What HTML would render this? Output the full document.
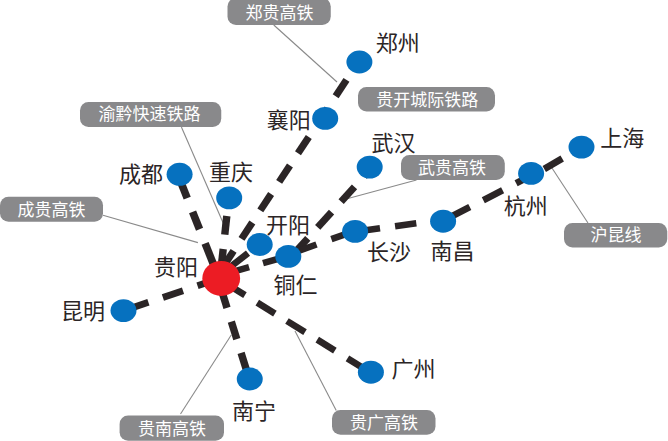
<!DOCTYPE html>
<html lang="zh-CN">
<head>
<meta charset="utf-8">
<title>贵阳铁路枢纽示意图</title>
<style>
html,body{margin:0;padding:0;background:#fff;}
body{width:668px;height:441px;overflow:hidden;font-family:"Liberation Sans","Noto Sans CJK SC",sans-serif;}
svg{display:block;}
svg text{font-family:"Liberation Sans","Noto Sans CJK SC",sans-serif;}
</style>
</head>
<body>
<svg width="668" height="441" viewBox="0 0 668 441" role="img" aria-label="贵阳铁路枢纽示意图">
<rect width="668" height="441" fill="#fff"/>
<line x1="273.75" y1="25" x2="337" y2="82" stroke="#8a8a8a" stroke-width="1.1"/>
<line x1="181.4" y1="127" x2="223.6" y2="224.0" stroke="#8a8a8a" stroke-width="1.1"/>
<line x1="103" y1="215.2" x2="197.9" y2="242.6" stroke="#8a8a8a" stroke-width="1.1"/>
<line x1="416.5" y1="180" x2="348" y2="198.5" stroke="#8a8a8a" stroke-width="1.1"/>
<line x1="588" y1="223" x2="550.8" y2="166.3" stroke="#8a8a8a" stroke-width="1.1"/>
<line x1="180.5" y1="414" x2="231.25" y2="335" stroke="#8a8a8a" stroke-width="1.1"/>
<line x1="336.25" y1="410.5" x2="295" y2="331" stroke="#8a8a8a" stroke-width="1.1"/>
<g stroke="#2b2526" fill="none">
<line x1="219.86" y1="280.48" x2="205.10" y2="243.30" stroke-width="7.6"/>
<line x1="199.53" y1="229.27" x2="192.59" y2="211.79" stroke-width="7.6"/>
<line x1="187.20" y1="198.22" x2="177.65" y2="174.15" stroke-width="7.6"/>
<line x1="219.95" y1="278.82" x2="223.20" y2="249.00" stroke-width="7.4"/>
<line x1="224.77" y1="234.64" x2="226.80" y2="216.00" stroke-width="7.4"/>
<line x1="228.36" y1="201.68" x2="228.84" y2="197.31" stroke-width="7.4"/>
<line x1="217.07" y1="275.94" x2="233.60" y2="250.90" stroke-width="7.1"/>
<line x1="241.53" y1="238.88" x2="252.33" y2="222.52" stroke-width="7.1"/>
<line x1="260.32" y1="210.42" x2="271.11" y2="194.06" stroke-width="7.1"/>
<line x1="279.15" y1="181.88" x2="289.95" y2="165.52" stroke-width="7.1"/>
<line x1="297.99" y1="153.33" x2="308.79" y2="136.98" stroke-width="7.1"/>
<line x1="316.83" y1="124.79" x2="327.63" y2="108.43" stroke-width="7.1"/>
<line x1="335.67" y1="96.25" x2="346.47" y2="79.89" stroke-width="7.1"/>
<line x1="354.51" y1="67.70" x2="358.53" y2="61.61" stroke-width="7.1"/>
<line x1="248.00" y1="253.20" x2="222.73" y2="272.84" stroke-width="6.7"/>
<line x1="219.45" y1="275.64" x2="249.07" y2="267.18" stroke-width="6.6"/>
<line x1="263.01" y1="263.20" x2="288.30" y2="255.97" stroke-width="6.6"/>
<line x1="288.30" y1="259.76" x2="307.80" y2="238.30" stroke-width="7.1"/>
<line x1="317.69" y1="227.42" x2="331.54" y2="212.17" stroke-width="7.1"/>
<line x1="341.15" y1="201.59" x2="354.50" y2="186.90" stroke-width="7.1"/>
<line x1="364.15" y1="176.28" x2="369.60" y2="170.28" stroke-width="7.1"/>
<line x1="288.33" y1="254.52" x2="316.50" y2="244.50" stroke-width="6.6"/>
<line x1="331.39" y1="239.20" x2="355.03" y2="230.79" stroke-width="6.6"/>
<line x1="355.05" y1="231.81" x2="380.00" y2="228.30" stroke-width="6.5"/>
<line x1="395.05" y1="226.19" x2="416.30" y2="223.20" stroke-width="6.5"/>
<line x1="431.40" y1="221.08" x2="443.08" y2="219.44" stroke-width="6.5"/>
<line x1="443.12" y1="220.82" x2="469.80" y2="207.10" stroke-width="6.7"/>
<line x1="483.32" y1="200.15" x2="502.62" y2="190.23" stroke-width="6.7"/>
<line x1="516.10" y1="183.30" x2="531.08" y2="175.60" stroke-width="6.7"/>
<line x1="544.26" y1="169.02" x2="562.20" y2="158.50" stroke-width="6.8"/>
<line x1="221.20" y1="277.84" x2="197.50" y2="285.80" stroke-width="6.8"/>
<line x1="183.00" y1="290.67" x2="162.90" y2="297.43" stroke-width="6.8"/>
<line x1="148.40" y1="302.30" x2="123.47" y2="310.68" stroke-width="6.8"/>
<line x1="217.75" y1="278.21" x2="227.00" y2="307.80" stroke-width="7.4"/>
<line x1="231.33" y1="321.64" x2="236.82" y2="339.20" stroke-width="7.4"/>
<line x1="241.10" y1="352.90" x2="249.26" y2="379.00" stroke-width="7.4"/>
<line x1="220.28" y1="279.78" x2="244.95" y2="295.03" stroke-width="6.7"/>
<line x1="257.29" y1="302.65" x2="274.90" y2="313.53" stroke-width="6.7"/>
<line x1="286.98" y1="320.99" x2="305.01" y2="332.13" stroke-width="6.7"/>
<line x1="317.26" y1="339.70" x2="334.87" y2="350.58" stroke-width="6.7"/>
<line x1="347.46" y1="358.36" x2="370.86" y2="372.82" stroke-width="6.7"/>
</g>
<ellipse cx="359.4" cy="62.0" rx="13.0" ry="11.45" fill="#0671bf"/>
<ellipse cx="325.2" cy="118.4" rx="13.0" ry="11.45" fill="#0671bf"/>
<ellipse cx="369.7" cy="167.1" rx="13.0" ry="11.45" fill="#0671bf"/>
<ellipse cx="179.6" cy="174.3" rx="13.0" ry="11.45" fill="#0671bf"/>
<ellipse cx="229.2" cy="197.9" rx="13.0" ry="11.45" fill="#0671bf"/>
<ellipse cx="259.7" cy="244.5" rx="13.0" ry="11.45" fill="#0671bf"/>
<ellipse cx="288.3" cy="256.4" rx="13.0" ry="11.45" fill="#0671bf"/>
<ellipse cx="355.1" cy="231.4" rx="13.0" ry="11.45" fill="#0671bf"/>
<ellipse cx="443.1" cy="221.2" rx="13.0" ry="11.45" fill="#0671bf"/>
<ellipse cx="531.1" cy="173.4" rx="13.0" ry="11.45" fill="#0671bf"/>
<ellipse cx="581.5" cy="147.1" rx="13.0" ry="11.45" fill="#0671bf"/>
<ellipse cx="123.5" cy="310.6" rx="13.0" ry="11.45" fill="#0671bf"/>
<ellipse cx="249.75" cy="379" rx="13.0" ry="11.45" fill="#0671bf"/>
<ellipse cx="370.9" cy="372.2" rx="13.0" ry="11.45" fill="#0671bf"/>
<ellipse cx="221.2" cy="278.4" rx="18.9" ry="17.5" fill="#ec1c24"/>
<rect x="227.5" y="-2" width="103.25" height="27.0" rx="8.5" ry="8.5" fill="#89898b"/>
<rect x="80" y="102" width="141.25" height="25" rx="8.5" ry="8.5" fill="#89898b"/>
<rect x="0" y="196.75" width="103" height="25.0" rx="8.5" ry="8.5" fill="#89898b"/>
<rect x="358" y="87" width="137" height="24.599999999999994" rx="8.5" ry="8.5" fill="#89898b"/>
<rect x="401" y="155" width="103.80000000000001" height="25" rx="8.5" ry="8.5" fill="#89898b"/>
<rect x="564" y="223" width="103.25" height="24.5" rx="8.5" ry="8.5" fill="#89898b"/>
<rect x="119.6" y="415.6" width="104.4" height="25.19999999999999" rx="8.5" ry="8.5" fill="#89898b"/>
<rect x="332" y="410" width="103.5" height="24.75" rx="8.5" ry="8.5" fill="#89898b"/>
<g aria-hidden="false">
<text x="279.4" y="19.0" text-anchor="middle" font-size="17" fill="#fff">郑贵高铁</text>
<text x="149.4" y="120.1" text-anchor="middle" font-size="17" fill="#fff">渝黔快速铁路</text>
<text x="51.6" y="215.75" text-anchor="middle" font-size="17" fill="#fff">成贵高铁</text>
<text x="427.3" y="105.5" text-anchor="middle" font-size="17" fill="#fff">贵开城际铁路</text>
<text x="452.1" y="174.1" text-anchor="middle" font-size="17" fill="#fff">武贵高铁</text>
<text x="616" y="241.25" text-anchor="middle" font-size="17" fill="#fff">沪昆线</text>
<text x="171.9" y="434.5" text-anchor="middle" font-size="17" fill="#fff">贵南高铁</text>
<text x="384" y="429.25" text-anchor="middle" font-size="17" fill="#fff">贵广高铁</text>
<text x="397.8" y="51.2" text-anchor="middle" font-size="22" fill="#2b2526">郑州</text>
<text x="288.75" y="128.4" text-anchor="middle" font-size="22" fill="#2b2526">襄阳</text>
<text x="393.5" y="151.4" text-anchor="middle" font-size="22" fill="#2b2526">武汉</text>
<text x="140.9" y="182.4" text-anchor="middle" font-size="22" fill="#2b2526">成都</text>
<text x="231.0" y="180.0" text-anchor="middle" font-size="22" fill="#2b2526">重庆</text>
<text x="288.1" y="233.4" text-anchor="middle" font-size="22" fill="#2b2526">开阳</text>
<text x="295.4" y="292.6" text-anchor="middle" font-size="22" fill="#2b2526">铜仁</text>
<text x="389.1" y="260.0" text-anchor="middle" font-size="22" fill="#2b2526">长沙</text>
<text x="452.5" y="259" text-anchor="middle" font-size="22" fill="#2b2526">南昌</text>
<text x="525.75" y="213.6" text-anchor="middle" font-size="22" fill="#2b2526">杭州</text>
<text x="622.25" y="146.1" text-anchor="middle" font-size="22" fill="#2b2526">上海</text>
<text x="176" y="274.6" text-anchor="middle" font-size="22" fill="#2b2526">贵阳</text>
<text x="83.1" y="319" text-anchor="middle" font-size="22" fill="#2b2526">昆明</text>
<text x="254" y="418.6" text-anchor="middle" font-size="22" fill="#2b2526">南宁</text>
<text x="413.4" y="377.1" text-anchor="middle" font-size="22" fill="#2b2526">广州</text>
</g>
</svg>
</body>
</html>
